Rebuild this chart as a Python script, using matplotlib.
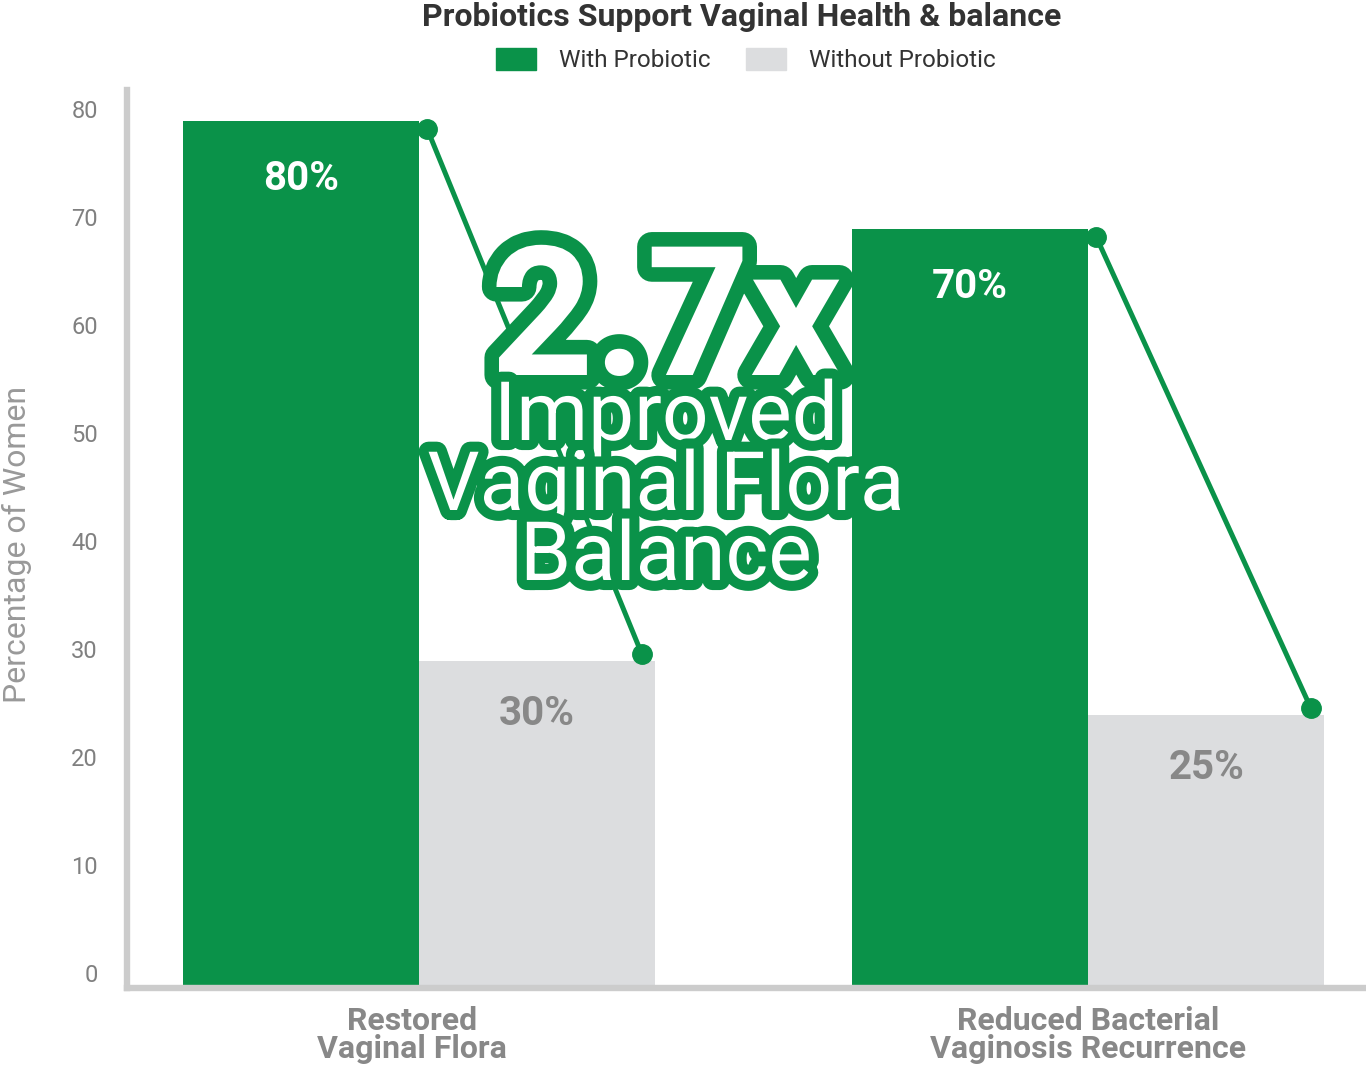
import matplotlib
matplotlib.use("Agg")
import matplotlib.pyplot as plt
import matplotlib.patheffects as pe
from matplotlib.patches import Patch
from matplotlib.transforms import ScaledTranslation
import numpy as np

# ---------------- data ----------------
categories = ["Restored\nVaginal Flora", "Reduced Bacterial\nVaginosis Recurrence"]
with_probiotic = [80, 70]
without_probiotic = [30, 25]
series_names = ["With Probiotic", "Without Probiotic"]
y_ticks = [0, 10, 20, 30, 40, 50, 60, 70, 80]
title = "Probiotics Support Vaginal Health & balance"
y_label = "Percentage of Women"
callout_value = "2.7x"
callout_lines = ["Improved", "Vaginal Flora", "Balance"]

# ---------------- style ----------------
GREEN = "#0A9249"
GRAY = "#DCDDDF"
SPINE = "#CCCCCC"
plt.rcParams["font.family"] = ["Roboto", "DejaVu Sans"]

W, H = 1366, 1074
fig = plt.figure(figsize=(W / 100, H / 100), dpi=100)
ax = fig.add_axes([127 / W, 1 - 988 / H, 1 - 127 / W, (988 - 90) / H])

x = np.arange(len(categories))
bw = 0.353
ax.bar(x - bw / 2, with_probiotic, bw, color=GREEN, zorder=2)
ax.bar(x + bw / 2, without_probiotic, bw, color=GRAY, zorder=2)

ax.set_xlim(-0.4365, 1.4155)
ax.set_ylim(-0.28, 82.87)

# value labels
for xi, v in zip(x, with_probiotic):
    ax.annotate(f"{v}%", (xi - bw / 2, v), xytext=(0, -42), textcoords="offset points",
                ha="center", va="center", fontsize=29, fontweight="bold", color="white", zorder=4)
for xi, v in zip(x, without_probiotic):
    ax.annotate(f"{v}%", (xi + bw / 2, v), xytext=(0, -38), textcoords="offset points",
                ha="center", va="center", fontsize=29, fontweight="bold", color="#888888", zorder=4)

# connectors
for xi, a, b in zip(x, with_probiotic, without_probiotic):
    ax.plot([xi + 0.012, xi + bw - 0.02], [a - 0.7, b + 0.65], color=GREEN, lw=3.6,
            marker="o", ms=14, zorder=3, solid_capstyle="round")

# axes styling
for s in ["top", "right"]:
    ax.spines[s].set_visible(False)
for s in ["left", "bottom"]:
    ax.spines[s].set_color(SPINE)
    ax.spines[s].set_linewidth(4.6)
    ax.spines[s].set_capstyle("projecting")

ax.set_yticks(y_ticks)
ax.tick_params(axis="y", length=0, pad=21, labelsize=17, labelcolor="#808080")
for lab in ax.get_yticklabels():
    lab.set_transform(lab.get_transform() + ScaledTranslation(0, 12 / 100, fig.dpi_scale_trans))

ax.set_xticks(x)
ax.set_xticklabels(categories, fontsize=23, fontweight="bold", color="#888888", linespacing=0.9)
ax.tick_params(axis="x", length=0, pad=13)
xl = ax.get_xticklabels()
xl[0].set_transform(xl[0].get_transform() + ScaledTranslation(-7 / 100, 0, fig.dpi_scale_trans))

ax.set_ylabel(y_label, fontsize=23, color="#999999")
ax.yaxis.set_label_coords(-0.0765, 0.494)

# title & legend
fig.text(742 / W, 1 - 17 / H, title, ha="center", va="center", fontsize=23,
         fontweight="bold", color="#333333")
handles = [Patch(color=GREEN), Patch(color=GRAY)]
fig.legend(handles, series_names, loc="center", bbox_to_anchor=(746 / W, 1 - 60 / H), ncol=2,
           frameon=False, fontsize=17.5, handlelength=1.65, handleheight=1.0, handletextpad=0.95,
           columnspacing=1.45, labelcolor="#333333")

# callout
fig.text(666 / W, 1 - 375 / H, callout_value, ha="center", va="baseline", fontsize=130,
         fontweight="bold", color="white", zorder=10,
         path_effects=[pe.Stroke(linewidth=21, foreground=GREEN, joinstyle="round"), pe.Normal()])
for line, base in zip(callout_lines, [440, 510, 580]):
    fig.text(666 / W, 1 - base / H, line, ha="center", va="baseline", fontsize=59,
             color="white", zorder=10,
             path_effects=[pe.Stroke(linewidth=14.5, foreground=GREEN, joinstyle="round"), pe.Normal()])

fig.savefig("out.png", dpi=100)
